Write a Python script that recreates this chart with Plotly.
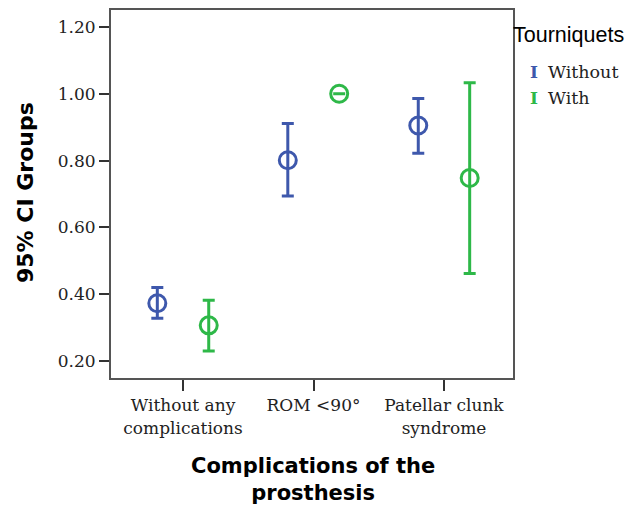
import plotly.graph_objects as go

categories = ["Without any<br>complications", "ROM &lt;90°", "Patellar clunk<br>syndrome"]
groups = ["Without", "With"]
colors = {"Without": "#3E58AC", "With": "#2EB848"}

mean_without = [0.373, 0.801, 0.905]
upper_without = [0.420, 0.911, 0.986]
lower_without = [0.328, 0.694, 0.822]

mean_with = [0.307, 1.000, 0.748]
upper_with = [0.382, 1.000, 1.033]
lower_with = [0.230, 1.000, 0.462]

y_ticks = [0.20, 0.40, 0.60, 0.80, 1.00, 1.20]

series = {
    "Without": (mean_without, upper_without, lower_without),
    "With": (mean_with, upper_with, lower_with),
}
offsets = {"Without": -0.197, "With": 0.197}

fig = go.Figure()
for g in groups:
    m, u, l = series[g]
    xs = [i + offsets[g] for i in range(len(categories))]
    fig.add_trace(go.Scatter(
        x=xs, y=m, mode="markers", name=g, showlegend=False,
        marker=dict(symbol="circle-open", size=17, color=colors[g], line=dict(width=3, color=colors[g])),
        error_y=dict(type="data", symmetric=False,
                     array=[a - b for a, b in zip(u, m)],
                     arrayminus=[b - c for b, c in zip(m, l)],
                     color=colors[g], thickness=3, width=6),
    ))

serif = "DejaVu Serif"
L, T, PW, PH = 111, 8, 402, 370

def px(x):
    return (x - L) / PW

def py(y):
    return (T + PH - y) / PH

fig.update_layout(
    width=634, height=506,
    margin=dict(l=L, r=634 - L - PW, t=T, b=506 - T - PH),
    paper_bgcolor="white", plot_bgcolor="white",
    xaxis=dict(
        range=[-0.552, 2.529], tickmode="array",
        tickvals=list(range(len(categories))), ticktext=categories,
        ticks="outside", ticklen=11, tickwidth=2, tickcolor="#333",
        showgrid=False, zeroline=False,
        showline=True, linecolor="#555", linewidth=2, mirror=True,
        tickfont=dict(family=serif, size=17, color="#222"),
    ),
    yaxis=dict(
        range=[0.1494, 1.2506], tickmode="array", tickvals=y_ticks,
        ticktext=["%.2f" % v for v in y_ticks],
        ticks="outside", ticklen=10, tickwidth=2, tickcolor="#333",
        showgrid=False, zeroline=False,
        showline=True, linecolor="#555", linewidth=2, mirror=True,
        tickfont=dict(family=serif, size=17, color="#222"),
    ),
    annotations=[
        dict(text="<b>95% CI Groups</b>", textangle=-90, xref="paper", yref="paper",
             x=px(25), y=py(192), xanchor="center", yanchor="middle", showarrow=False,
             font=dict(family="DejaVu Sans", size=22, color="black")),
        dict(text="<b>Complications of the<br>prosthesis</b>", xref="paper", yref="paper",
             x=px(313), y=py(480), xanchor="center", yanchor="middle",
             showarrow=False, font=dict(family="DejaVu Sans", size=21, color="black")),
        dict(text="Tourniquets", xref="paper", yref="paper",
             x=px(511), y=py(33), xanchor="left", yanchor="middle",
             showarrow=False, font=dict(family="Liberation Sans", size=21.5, color="black")),
        dict(text="<b>I</b>", xref="paper", yref="paper",
             x=px(534), y=py(70), xanchor="center", yanchor="middle",
             showarrow=False, font=dict(family="DejaVu Serif", size=17, color=colors["Without"])),
        dict(text="Without", xref="paper", yref="paper",
             x=px(546), y=py(70), xanchor="left", yanchor="middle",
             showarrow=False, font=dict(family=serif, size=17.5, color="#222")),
        dict(text="<b>I</b>", xref="paper", yref="paper",
             x=px(534), y=py(96), xanchor="center", yanchor="middle",
             showarrow=False, font=dict(family="DejaVu Serif", size=17, color=colors["With"])),
        dict(text="With", xref="paper", yref="paper",
             x=px(546), y=py(96), xanchor="left", yanchor="middle",
             showarrow=False, font=dict(family=serif, size=17.5, color="#222")),
    ],
)

fig.write_html("out.html", config={"displayModeBar": False},
               post_script="document.body.style.margin='0';")
